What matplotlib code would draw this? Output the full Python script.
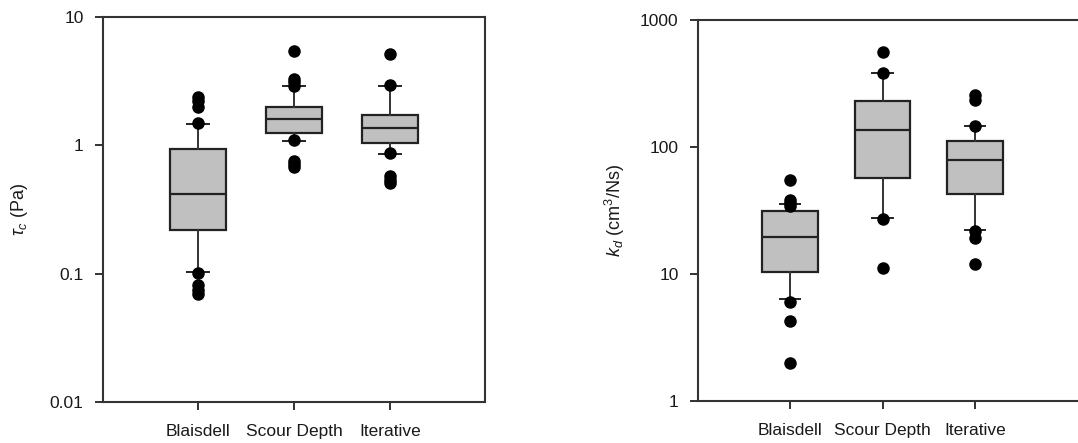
import numpy as np
import matplotlib
matplotlib.use("Agg")
import matplotlib.pyplot as plt

plt.rcParams['font.family'] = ['Liberation Sans', 'DejaVu Sans']
plt.rcParams['mathtext.fontset'] = 'custom'
plt.rcParams['mathtext.rm'] = 'Liberation Sans'
plt.rcParams['mathtext.it'] = 'Liberation Sans:italic'

methods = ['Blaisdell', 'Scour Depth', 'Iterative']

# critical shear stress tau_c (Pa): 10th, 25th, 50th, 75th, 90th percentiles
tau_p10 = [0.103, 1.08, 0.86]
tau_q1 = [0.217, 1.25, 1.05]
tau_med = [0.415, 1.61, 1.36]
tau_q3 = [0.93, 2.0, 1.72]
tau_p90 = [1.46, 2.9, 2.92]
tau_points = [
    [2.4, 2.2, 2.0, 1.5, 0.101, 0.082, 0.075, 0.070],
    [5.43, 3.3, 3.1, 2.9, 1.1, 0.76, 0.72, 0.68],
    [5.12, 2.95, 0.87, 0.58, 0.54, 0.51],
]

# erodibility coefficient k_d (cm^3/Ns)
kd_p10 = [6.35, 27.4, 22.2]
kd_q1 = [10.4, 57.0, 42.5]
kd_med = [19.5, 137.0, 78.5]
kd_q3 = [31.3, 230.0, 111.0]
kd_p90 = [35.6, 385.0, 147.0]
kd_points = [
    [55.0, 38.0, 36.0, 34.5, 6.05, 4.3, 1.98],
    [563.0, 385.0, 27.0, 11.2],
    [256.0, 234.0, 147.0, 22.0, 19.1, 12.0],
]


def draw_panel(ax, p10, q1, med, q3, p90, points, ylim, yticks, yticklabels,
               xlim, box_w, ylabel):
    stats = []
    for i in range(len(methods)):
        stats.append(dict(whislo=p10[i], q1=q1[i], med=med[i], q3=q3[i],
                          whishi=p90[i], fliers=[]))
    pos = np.arange(1, len(methods) + 1)
    ax.bxp(stats, positions=pos, widths=box_w, patch_artist=True,
           showfliers=False,
           boxprops=dict(facecolor='#c0c0c0', edgecolor='#222222', linewidth=1.6),
           medianprops=dict(color='#222222', linewidth=1.6),
           whiskerprops=dict(color='#333333', linewidth=1.4),
           capprops=dict(color='#222222', linewidth=1.4),
           capwidths=0.22)
    for i, pts in enumerate(points):
        ax.plot(np.full(len(pts), pos[i]), pts, 'o', color='black',
                markersize=8, zorder=4)
    ax.set_yscale('log')
    ax.set_ylim(*ylim)
    ax.set_xlim(*xlim)
    ax.set_yticks(yticks)
    ax.set_yticklabels(yticklabels)
    ax.minorticks_off()
    ax.set_xticks(pos)
    ax.set_xticklabels(methods)
    ax.tick_params(axis='both', direction='out', length=6, width=1.3,
                   color='#222222', labelsize=12.5, labelcolor='#1a1a1a')
    ax.tick_params(axis='y', pad=8)
    ax.tick_params(axis='x', pad=10)
    for s in ax.spines.values():
        s.set_color('#333333')
        s.set_linewidth(1.5)
    ax.set_ylabel(ylabel, fontsize=13, color='#1a1a1a')


fig = plt.figure(figsize=(10.78, 4.43), dpi=100)
W, H = 1078.0, 443.0

ax1 = fig.add_axes([103 / W, 1 - 402 / H, 382 / W, 385 / H])
draw_panel(ax1, tau_p10, tau_q1, tau_med, tau_q3, tau_p90, tau_points,
           (0.01, 10), [0.01, 0.1, 1, 10], ['0.01', '0.1', '1', '10'],
           (0.01, 3.99), 0.58, r'$\tau_c$ (Pa)')
ax1.yaxis.set_label_coords(-0.19, 0.5)

ax2 = fig.add_axes([698 / W, 1 - 401 / H, 382 / W, 381 / H])
draw_panel(ax2, kd_p10, kd_q1, kd_med, kd_q3, kd_p90, kd_points,
           (1, 1000), [1, 10, 100, 1000], ['1', '10', '100', '1000'],
           (0.005, 4.135), 0.6, r'$k_d$ (cm$^3$/Ns)')
ax2.yaxis.set_label_coords(-0.185, 0.5)

fig.savefig('out.png', dpi=100)
